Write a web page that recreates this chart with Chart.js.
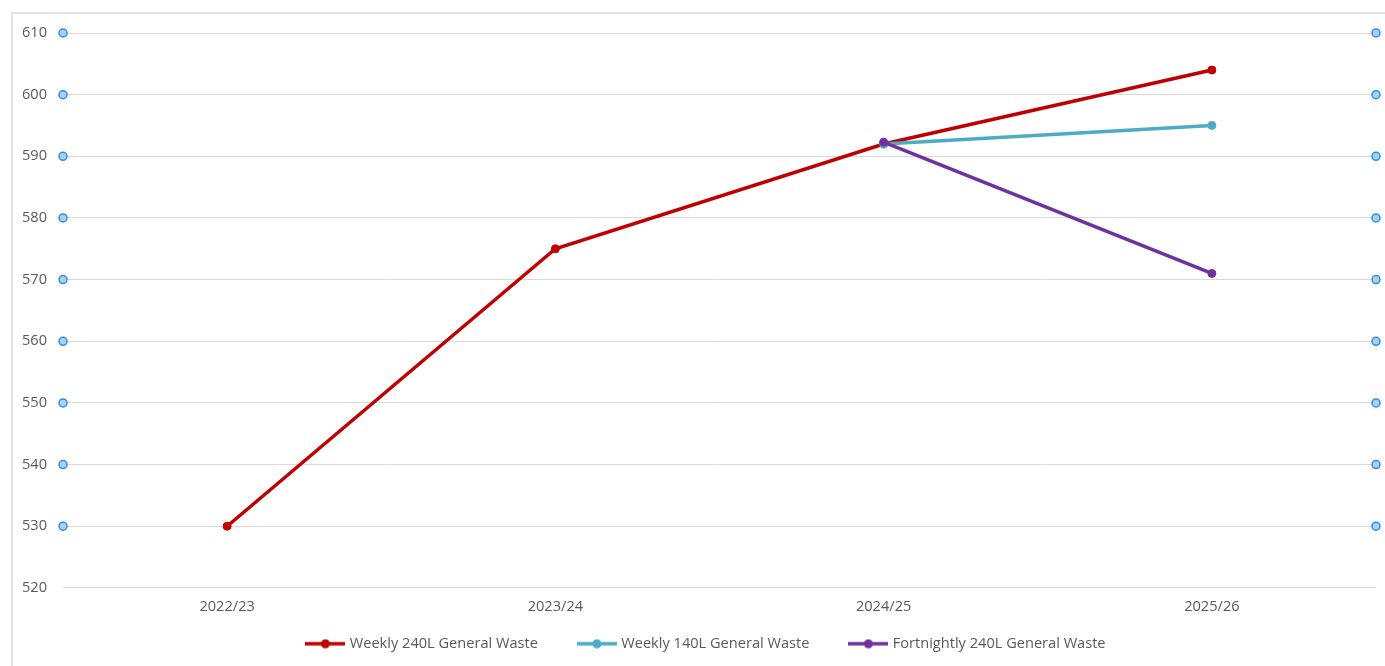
<!DOCTYPE html>
<html>
<head>
<meta charset="utf-8">
<script src="https://cdn.jsdelivr.net/npm/chart.js@4/dist/chart.umd.min.js"></script>
<style>
  html, body { margin: 0; padding: 0; background: #fff; overflow: hidden; }
  #frame { position: absolute; left: 11px; top: 12px; width: 1400px; height: 700px; border: 2px solid #e3e3e3; }
  #wrap { position: absolute; left: 0; top: 0; width: 1385px; height: 666px; }
</style>
</head>
<body>
<div id="frame"></div>
<div id="wrap"><canvas id="wasteChart"></canvas></div>
<script>
// data
const years = ['2022/23', '2023/24', '2024/25', '2025/26'];
const weekly240 = [530, 575, 592, 604];
const weekly140 = [null, null, 592, 595];
const fortnightly240 = [null, null, 592.3, 571];
const yTicks = [520, 530, 540, 550, 560, 570, 580, 590, 600, 610];
// the little blue rings on both sides of the plot
const edgeMarks = [530, 540, 550, 560, 570, 580, 590, 600, 610];

const grey = '#595959';
const font = { family: 'Open Sans', size: 14.6 };
const legendGap = 42;      // space between legend entries
const legendShrink = 31;   // legend padding is also vertical, take some back
const legendNudge = 38;    // legend sits a bit right of centre

function legendIcon(color) {
    const c = document.createElement('canvas');
    c.width = 40; c.height = 10;
    const g = c.getContext('2d');
    g.strokeStyle = color;
    g.lineWidth = 3.5;
    g.beginPath(); g.moveTo(0, 5); g.lineTo(40, 5); g.stroke();
    g.fillStyle = color;
    g.beginPath(); g.arc(20, 5, 4.5, 0, Math.PI * 2); g.fill();
    return c;
}

function series(label, data, color, order) {
    return {
        label: label,
        data: data,
        borderColor: color,
        backgroundColor: color,
        borderWidth: 3.5,
        pointRadius: 4,
        pointBorderWidth: 1,
        pointHoverRadius: 5,
        pointStyle: 'circle',
        order: order,
        tension: 0,
        legendIcon: legendIcon(color)
    };
}

function edgeSet(xPos) {
    return {
        label: 'edge',
        type: 'scatter',
        xAxisID: 'xEdge',
        data: edgeMarks.map(v => ({ x: xPos, y: v })),
        showLine: false,
        pointRadius: 4,
        borderWidth: 1.5,
        borderColor: '#2e8ee6',
        backgroundColor: '#a9d1fa',
        clip: false,
        order: 0
    };
}

// keeps wide gaps between legend items without a tall legend box
const tightLegend = {
    id: 'tightLegend',
    afterInit(chart) {
        const lg = chart.legend;
        const fit = lg.fit.bind(lg);
        lg.fit = function () { fit(); this.height -= legendShrink; };
    },
    afterLayout(chart) {
        chart.legend.top -= legendShrink;
        chart.legend.left += legendNudge;
    }
};

const ctx = document.getElementById('wasteChart');
new Chart(ctx, {
    type: 'line',
    data: {
        labels: years,
        datasets: [
            series('Weekly 240L General Waste', weekly240, '#c00000', 3),
            series('Weekly 140L General Waste', weekly140, '#4bacc6', 2),
            series('Fortnightly 240L General Waste', fortnightly240, '#7030a0', 1),
            edgeSet(0),
            edgeSet(1)
        ]
    },
    plugins: [tightLegend],
    options: {
        responsive: true,
        maintainAspectRatio: false,
        animation: false,
        layout: { padding: { top: 33, right: 9, bottom: 5, left: 0 } },
        scales: {
            x: {
                offset: true,
                grid: { display: false, drawTicks: false },
                border: { display: false },
                ticks: { color: grey, font: font, padding: 10 }
            },
            xEdge: {
                type: 'linear',
                display: false,
                min: 0,
                max: 1
            },
            y: {
                min: 520,
                max: 610,
                afterBuildTicks: scale => { scale.ticks = yTicks.map(v => ({ value: v })); },
                afterFit: scale => { scale.width = 63; },
                grid: { color: '#d9d9d9', lineWidth: 1, drawTicks: false },
                border: { display: false },
                ticks: { color: grey, font: font, padding: 16 }
            }
        },
        plugins: {
            legend: {
                display: true,
                position: 'bottom',
                align: 'center',
                labels: {
                    color: grey,
                    font: font,
                    usePointStyle: true,
                    pointStyleWidth: 34,
                    padding: legendGap,
                    filter: item => item.text !== 'edge',
                    sort: (a, b) => a.datasetIndex - b.datasetIndex,
                    generateLabels: chart => {
                        const items = Chart.defaults.plugins.legend.labels.generateLabels(chart);
                        items.forEach(it => {
                            const ds = chart.data.datasets[it.datasetIndex];
                            if (ds.legendIcon) it.pointStyle = ds.legendIcon;
                        });
                        return items;
                    }
                }
            },
            tooltip: { enabled: false }
        }
    }
});
</script>
</body>
</html>
